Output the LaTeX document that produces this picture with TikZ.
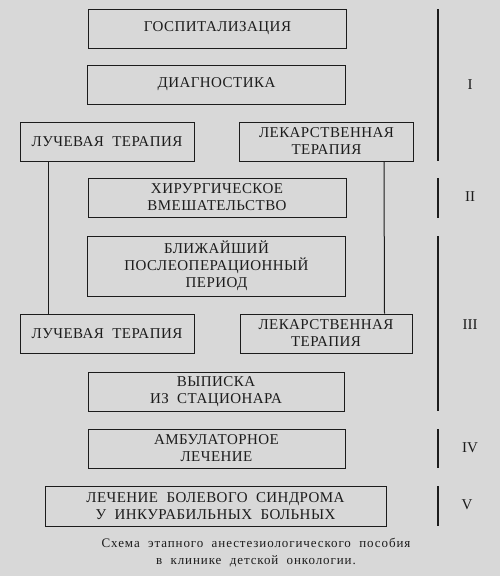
\documentclass[tikz,border=0pt]{standalone}
\usepackage{fontspec}
\setmainfont{Liberation Serif}
\newfontfamily\boxfont[LetterSpace=3]{Liberation Serif}
\newfontfamily\capfont[LetterSpace=7]{Liberation Serif}
\usetikzlibrary{calc}
\definecolor{paper}{RGB}{216,216,216}
\definecolor{ink}{RGB}{28,28,28}
\tikzset{
  stagebox/.style={draw=ink, line width=1pt, text=ink, align=center, inner sep=0pt,
    font=\boxfont\fontsize{15}{17}\selectfont, minimum height=39pt},
  widebox/.style={stagebox, minimum width=258pt},
  sidebox/.style={stagebox, minimum width=174pt},
  bar/.style={draw=ink, line width=1.1pt},
  link/.style={draw=ink, line width=1pt},
  numeral/.style={text=ink, font=\fontsize{15}{16}\selectfont, inner sep=0pt}
}
\begin{document}
\begin{tikzpicture}[x=1pt,y=-1pt]
\fill[paper] (0,0) rectangle (500,576);
\useasboundingbox (0,0) rectangle (500,576);
\node[widebox] (hosp) at (217.5,28.5) {ГОСПИТАЛИЗАЦИЯ};
\node[widebox] (diag) at (216.5,84.5) {ДИАГНОСТИКА};
\node[sidebox] (ray1) at (107,141.5) {ЛУЧЕВАЯ\ \ ТЕРАПИЯ};
\node[sidebox] (drug1) at (326.5,141.5) {ЛЕКАРСТВЕННАЯ\\ТЕРАПИЯ};
\node[widebox] (surg) at (217,197.5) {ХИРУРГИЧЕСКОЕ\\ВМЕШАТЕЛЬСТВО};
\node[widebox, minimum height=60pt] (post) at (216.5,266) {БЛИЖАЙШИЙ\\ПОСЛЕОПЕРАЦИОННЫЙ\\ПЕРИОД};
\node[sidebox] (ray2) at (107,333.5) {ЛУЧЕВАЯ\ \ ТЕРАПИЯ};
\node[sidebox, minimum width=172pt] (drug2) at (326,333.5) {ЛЕКАРСТВЕННАЯ\\ТЕРАПИЯ};
\node[widebox, minimum width=256pt] (disch) at (216,391.5) {ВЫПИСКА\\ИЗ\ \ СТАЦИОНАРА};
\node[widebox, minimum width=257pt] (amb) at (216.5,448.5) {АМБУЛАТОРНОЕ\\ЛЕЧЕНИЕ};
\node[stagebox, minimum width=341pt, minimum height=40pt] (pain) at (215.5,506) {ЛЕЧЕНИЕ\ \ БОЛЕВОГО\ \ СИНДРОМА\\У\ \ ИНКУРАБИЛЬНЫХ\ \ БОЛЬНЫХ};
\path[link] ($(ray1.south west)+(29,0)$) -- ($(ray2.north west)+(29,0)$);
\path[link] ($(drug1.south west)+(145,0)$) -- ($(drug2.north west)+(145,0)$);
\coordinate (b1t) at (438,9);   \coordinate (b1b) at (438,161);
\coordinate (b2t) at (438,178); \coordinate (b2b) at (438,218);
\coordinate (b3t) at (438,236); \coordinate (b3b) at (438,411);
\coordinate (b4t) at (438,429); \coordinate (b4b) at (438,468);
\coordinate (b5t) at (438,486); \coordinate (b5b) at (438,526);
\path[bar] (b1t) -- (b1b);
\path[bar] (b2t) -- (b2b);
\path[bar] (b3t) -- (b3b);
\path[bar] (b4t) -- (b4b);
\path[bar] (b5t) -- (b5b);
\node[numeral] (n1) at (470,85) {I};
\node[numeral] (n2) at (470,197) {II};
\node[numeral] (n3) at (470,325) {III};
\node[numeral] (n4) at (470,448) {IV};
\node[numeral] (n5) at (467,505) {V};
\node[text=ink, align=center, font=\capfont\fontsize{13}{17}\selectfont, inner sep=0pt] (cap) at (256,553)
  {Схема\ \ этапного\ \ анестезиологического\ \ пособия\\в\ \ клинике\ \ детской\ \ онкологии.};
\end{tikzpicture}
\end{document}
